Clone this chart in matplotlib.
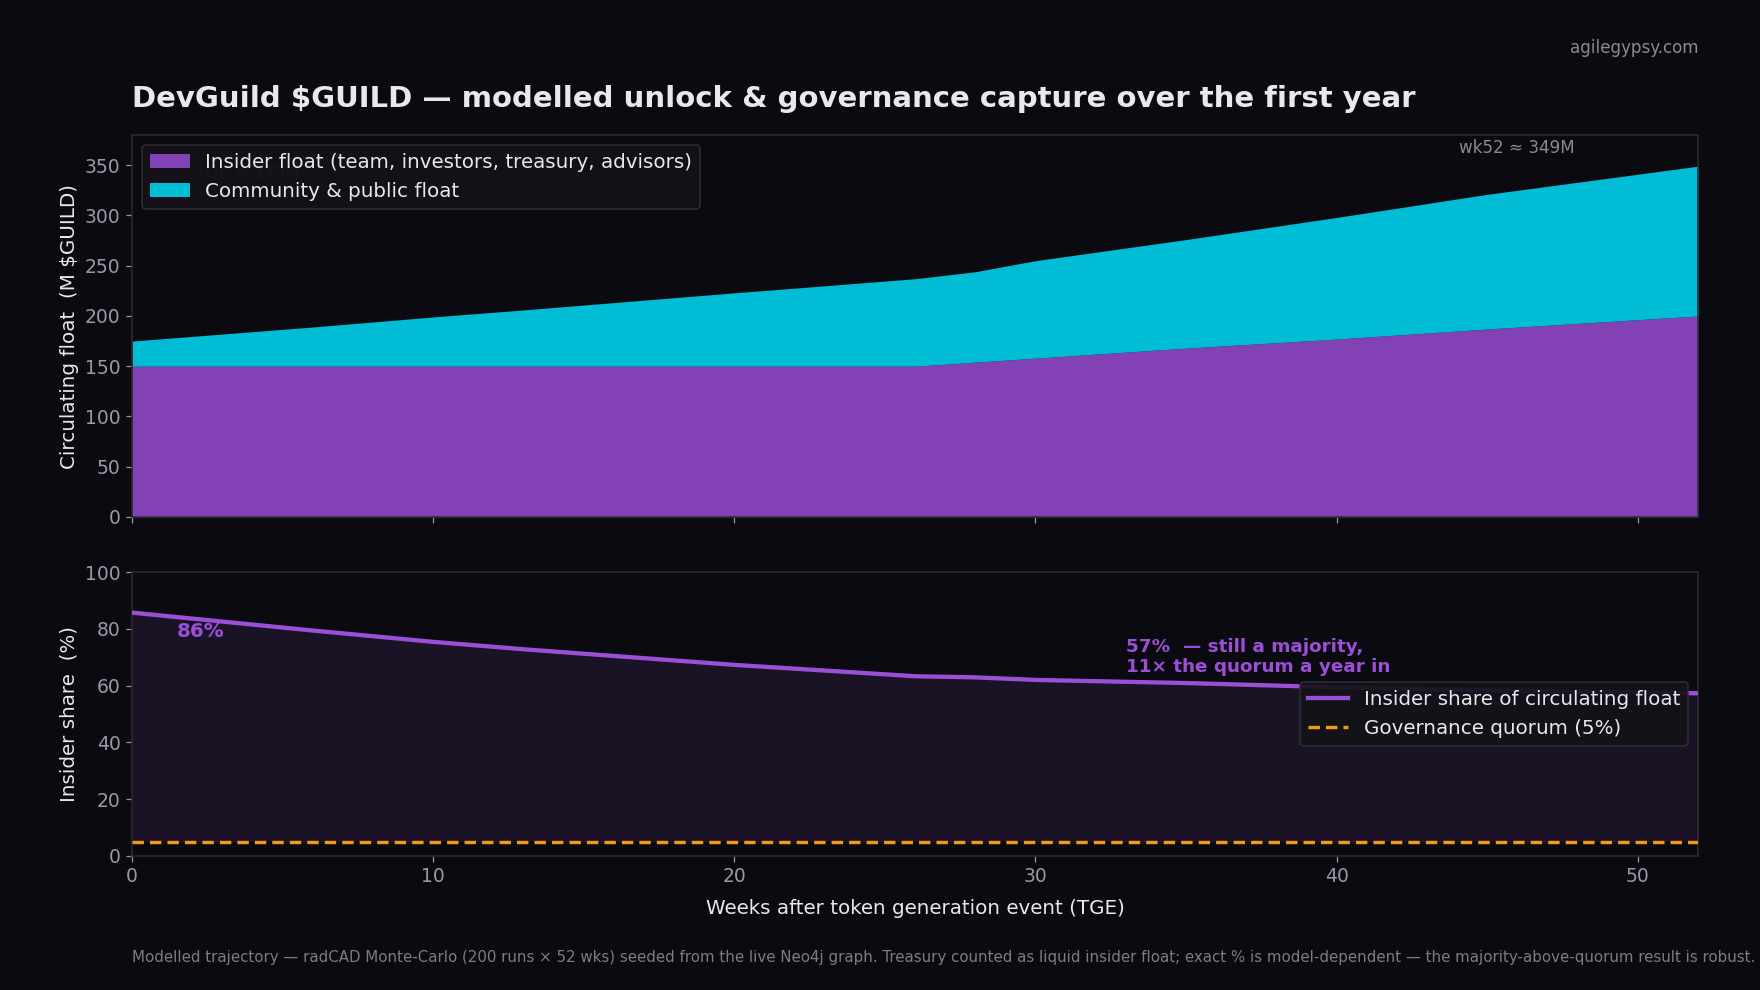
import matplotlib
matplotlib.use("Agg")
import matplotlib.pyplot as plt
from matplotlib.patches import Patch

# ---- data ----
weeks = [0, 6, 10, 13, 20, 26, 28, 30, 35, 40, 45, 52]
total_float = [175, 189, 199, 206, 223, 237, 244, 255, 276, 298, 321, 349]
insider_float = [150, 150, 150, 150, 150, 150, 154, 158, 168, 177, 187, 200]
insider_share = [85.7, 79.4, 75.4, 72.8, 67.3, 63.3, 62.9, 62.0, 60.9, 59.4, 58.3, 57.3]
quorum = 5

BG = "#0b0a10"
PURPLE = "#8241b5"
CYAN = "#00bcd4"
LINE = "#9b4fd6"
ORANGE = "#f39c12"
TICK = "#9a9aa6"
SPINE = "#2c2b33"
TXT = "#e8e8ee"

plt.rcParams['font.family'] = ['DejaVu Sans']

fig = plt.figure(figsize=(16, 9), dpi=110, facecolor=BG)
ax1 = fig.add_axes([0.075, 0.4778, 0.8898, 0.3858])
ax2 = fig.add_axes([0.075, 0.1354, 0.8898, 0.2868], sharex=ax1)

for ax in (ax1, ax2):
    ax.set_facecolor(BG)
    for s in ax.spines.values():
        s.set_color(SPINE)
        s.set_linewidth(1.0)
    ax.tick_params(colors=TICK, labelsize=12.3, length=4, width=0.8)

# ---- top: stacked float ----
ax1.fill_between(weeks, 0, insider_float, color=PURPLE, lw=0, zorder=2)
ax1.fill_between(weeks, insider_float, total_float, color=CYAN, lw=0, zorder=2)
ax1.set_xlim(0, 52)
ax1.set_ylim(0, 380)
ax1.set_yticks([0, 50, 100, 150, 200, 250, 300, 350])
ax1.set_ylabel("Circulating float  (M $GUILD)", color=TXT, fontsize=13)
ax1.tick_params(axis='x', labelbottom=False)
ax1.text(2.1, 342, "TGE ≈ 175M", color="#55555e", fontsize=11, va='center', zorder=1)
ax1.text(0.921, 0.965, "wk52 ≈ 349M", transform=ax1.transAxes, color="#8a8a94",
         fontsize=11, ha='right', va='center')
handles1 = [Patch(facecolor=PURPLE, label="Insider float (team, investors, treasury, advisors)"),
            Patch(facecolor=CYAN, label="Community & public float")]
leg1 = ax1.legend(handles=handles1, loc='upper left', fontsize=13, frameon=True,
                  facecolor="#141218", edgecolor="#333038", framealpha=0.92, labelcolor=TXT)
leg1.set_zorder(5)

# ---- bottom: insider share ----
ax2.fill_between(weeks, quorum, insider_share, color="#1a1326", lw=0, zorder=1)
ax2.plot(weeks, insider_share, color=LINE, lw=2.8, zorder=3,
         label="Insider share of circulating float")
ax2.axhline(quorum, color=ORANGE, lw=2.2, ls=(0, (3.4, 1.8)), zorder=3,
            label="Governance quorum (5%)")
ax2.set_ylim(0, 100)
ax2.set_yticks([0, 20, 40, 60, 80, 100])
ax2.set_xticks([0, 10, 20, 30, 40, 50])
ax2.set_ylabel("Insider share  (%)", color=TXT, fontsize=13)
ax2.set_xlabel("Weeks after token generation event (TGE)", color=TXT, fontsize=13, labelpad=8)
ax2.text(1.5, 79.2, "86%", color=LINE, fontsize=13, fontweight='bold', va='center')
ax2.text(33, 63.5, "57%  — still a majority,\n11× the quorum a year in", color=LINE,
         fontsize=12, fontweight='bold', va='bottom', ha='left', linespacing=1.1)
leg2 = ax2.legend(loc='center right', fontsize=13, frameon=True, facecolor="#141218",
                  edgecolor="#333038", framealpha=0.92, labelcolor=TXT)
leg2.set_zorder(5)

# ---- figure texts ----
fig.text(0.075, 0.900, "DevGuild $GUILD — modelled unlock & governance capture over the first year",
         color=TXT, fontsize=19.1, fontweight='bold', ha='left', va='center')
fig.text(0.965, 0.9515, "agilegypsy.com", color="#8a8a94", fontsize=11, ha='right', va='center')
fig.text(0.075, 0.033,
         "Modelled trajectory — radCAD Monte-Carlo (200 runs × 52 wks) seeded from the live Neo4j graph. "
         "Treasury counted as liquid insider float; exact % is model-dependent — the majority-above-quorum result is robust.",
         color="#7c7c86", fontsize=9.85, ha='left', va='center')

fig.savefig("out.png", dpi=110, facecolor=BG)
